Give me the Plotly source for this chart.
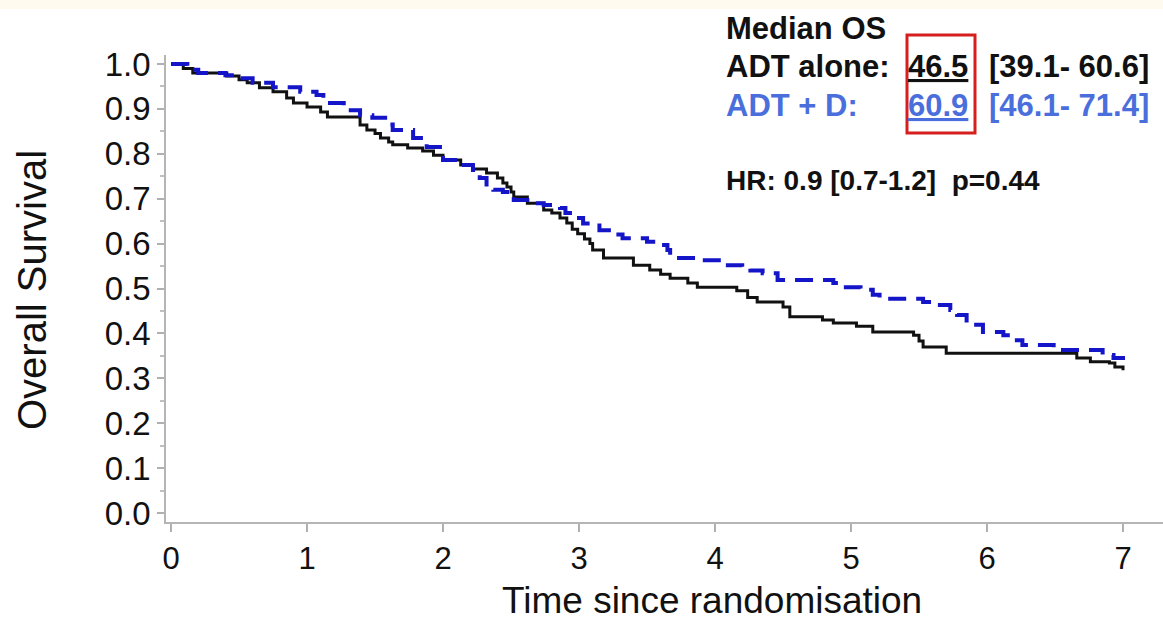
import plotly.graph_objects as go

# ---- data ----
adt_time = [0, 0.09, 0.16, 0.41, 0.5, 0.56, 0.65, 0.75, 0.85, 0.9, 1.0, 1.1, 1.15, 1.39, 1.44,
            1.5, 1.54, 1.6, 1.63, 1.74, 1.85, 1.93, 2.0, 2.13, 2.22, 2.32, 2.4, 2.44, 2.47, 2.5,
            2.52, 2.62, 2.74, 2.8, 2.86, 2.91, 2.95, 2.99, 3.04, 3.08, 3.1, 3.18, 3.4, 3.52, 3.6,
            3.67, 3.8, 3.87, 4.16, 4.24, 4.31, 4.5, 4.55, 4.79, 4.87, 5.04, 5.16, 5.46, 5.5, 5.53,
            5.7, 6.66, 6.76, 6.9, 6.94, 7.0]
adt_surv = [1.0, 0.99, 0.98, 0.973, 0.965, 0.958, 0.947, 0.938, 0.924, 0.913, 0.904, 0.893, 0.882,
            0.864, 0.853, 0.845, 0.835, 0.826, 0.82, 0.813, 0.806, 0.797, 0.786, 0.775, 0.766,
            0.757, 0.746, 0.735, 0.726, 0.715, 0.704, 0.69, 0.675, 0.668, 0.657, 0.646, 0.632,
            0.622, 0.61, 0.6, 0.586, 0.568, 0.552, 0.541, 0.532, 0.523, 0.512, 0.503, 0.495, 0.48,
            0.47, 0.459, 0.437, 0.43, 0.423, 0.416, 0.403, 0.396, 0.383, 0.37, 0.356, 0.345,
            0.337, 0.334, 0.325, 0.318]

adtd_time = [0, 0.12, 0.2, 0.4, 0.5, 0.6, 0.75, 0.95, 1.07, 1.12, 1.15, 1.27, 1.39, 1.48, 1.6,
             1.63, 1.78, 1.88, 2.0, 2.13, 2.22, 2.27, 2.32, 2.37, 2.44, 2.52, 2.62, 2.74, 2.86,
             2.9, 2.95, 3.03, 3.15, 3.25, 3.32, 3.5, 3.57, 3.65, 3.67, 3.89, 4.06, 4.2, 4.26, 4.35,
             4.46, 4.87, 4.94, 5.07, 5.16, 5.21, 5.53, 5.63, 5.73, 5.78, 5.85, 5.97, 6.12, 6.19,
             6.26, 6.49, 6.85, 6.93, 7.0]
adtd_surv = [1.0, 0.987, 0.98, 0.975, 0.968, 0.958, 0.948, 0.938, 0.931, 0.92, 0.913, 0.897,
             0.886, 0.88, 0.865, 0.853, 0.835, 0.815, 0.786, 0.775, 0.764, 0.746, 0.726, 0.72,
             0.715, 0.697, 0.69, 0.686, 0.679, 0.668, 0.657, 0.645, 0.63, 0.62, 0.612, 0.604,
             0.597, 0.586, 0.568, 0.563, 0.552, 0.548, 0.54, 0.534, 0.519, 0.512, 0.503, 0.497,
             0.486, 0.477, 0.47, 0.463, 0.452, 0.441, 0.419, 0.403, 0.396, 0.385, 0.374, 0.363,
             0.352, 0.345, 0.341]

x_ticks = [0, 1, 2, 3, 4, 5, 6, 7]
y_ticks = [0.0, 0.1, 0.2, 0.3, 0.4, 0.5, 0.6, 0.7, 0.8, 0.9, 1.0]

median_label = "Median OS"
arm1_label, arm1_median, arm1_ci = "ADT alone:", "46.5", "[39.1- 60.6]"
arm2_label, arm2_median, arm2_ci = "ADT + D:", "60.9", "[46.1- 71.4]"
hr_text = "HR: 0.9 [0.7-1.2]  p=0.44"

# ---- layout geometry (pixels) ----
W, H = 1163, 622
ML, MR, MT, MB = 166, 0, 55, 100
PW, PH = W - ML - MR, H - MT - MB


def px(x):
    return (x - ML) / PW


def py(y):
    return (H - MB - y) / PH


FONT = "Liberation Sans, Arial, sans-serif"
BLACK_LINE = "#111111"
BLUE_LINE = "#1414c8"
BLUE_TEXT = "#4a6fdc"

fig = go.Figure()
fig.add_trace(go.Scatter(x=adt_time, y=adt_surv, mode="lines", line_shape="hv",
                         line=dict(color=BLACK_LINE, width=3), name="ADT alone",
                         showlegend=False))
fig.add_trace(go.Scatter(x=adtd_time, y=adtd_surv, mode="lines", line_shape="hv",
                         line=dict(color=BLUE_LINE, width=4, dash="18px,10px"), name="ADT + D",
                         showlegend=False))

fig.update_layout(
    width=W, height=H,
    margin=dict(l=ML, r=MR, t=MT, b=MB),
    paper_bgcolor="white", plot_bgcolor="white",
    font=dict(family=FONT, color="#111111"),
    xaxis=dict(range=[-0.037, 7.294], tickvals=x_ticks, ticks="outside", ticklen=8,
               tickcolor="#b0b0b0", tickwidth=1.5, showline=True, linecolor="#b5b5b5",
               linewidth=1.5, showgrid=False, zeroline=False,
               tickfont=dict(size=31, family=FONT, color="#111111")),
    yaxis=dict(range=[-0.02, 1.02], tickvals=y_ticks, tickformat=".1f", ticks="outside",
               ticklen=7, tickcolor="#b0b0b0", tickwidth=1.5, showline=True,
               linecolor="#b5b5b5", linewidth=1.5, showgrid=False, zeroline=False,
               minor=dict(dtick=0.05, ticks="outside", ticklen=4, tickcolor="#c0c0c0"),
               tickfont=dict(size=33, family=FONT, color="#111111")),
)

ann = []
# axis titles
ann.append(dict(x=px(712), y=py(600), text="Time since randomisation", showarrow=False,
                xref="paper", yref="paper", xanchor="center", yanchor="middle",
                font=dict(size=37, family=FONT, color="#111111")))
ann.append(dict(x=px(32), y=py(290), text="Overall Survival", showarrow=False, textangle=-90,
                xref="paper", yref="paper", xanchor="center", yanchor="middle",
                font=dict(size=40, family=FONT, color="#111111")))

bf = dict(size=31, family=FONT, color="#111111")
bb = dict(size=31, family=FONT, color=BLUE_TEXT)


def txt(x, y, s, font):
    ann.append(dict(x=px(x), y=py(y), text=s, showarrow=False, xref="paper", yref="paper",
                    xanchor="left", yanchor="middle", font=font))


txt(724, 28, "<b>" + median_label + "</b>", bf)
txt(724, 67, "<b>" + arm1_label + "</b>", bf)
txt(906, 67, "<b><u>" + arm1_median + "</u></b>", bf)
txt(987, 67, "<b>" + arm1_ci + "</b>", bf)
txt(724, 105, "<b>" + arm2_label + "</b>", bb)
txt(906, 105, "<b><u>" + arm2_median + "</u></b>", bb)
txt(987, 105, "<b>" + arm2_ci + "</b>", bb)
txt(724, 180, "<b>" + hr_text + "</b>", dict(size=28, family=FONT, color="#111111"))

fig.update_layout(annotations=ann)

fig.add_shape(type="rect", xref="paper", yref="paper", x0=px(907), x1=px(975), y0=py(133),
              y1=py(35), line=dict(color="#d61e1e", width=3), fillcolor="rgba(0,0,0,0)")
fig.add_shape(type="rect", xref="paper", yref="paper", x0=px(0), x1=px(W), y0=py(9),
              y1=py(0), line=dict(width=0), fillcolor="#fffaf0", layer="below")

fig.write_html("out.html")
